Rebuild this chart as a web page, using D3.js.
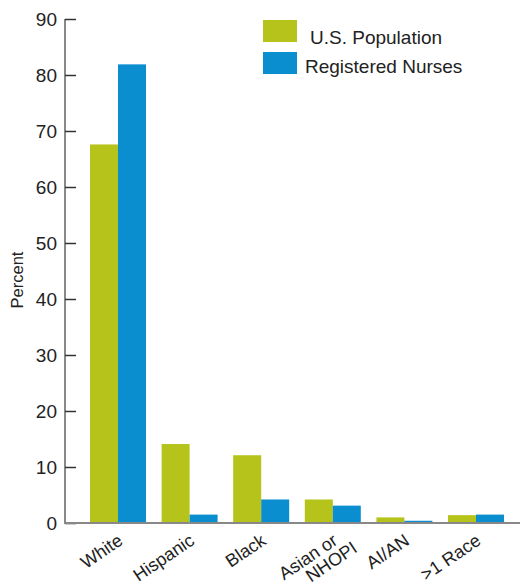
<!DOCTYPE html>
<html><head><meta charset="utf-8">
<script src="https://cdn.jsdelivr.net/npm/d3@7"></script>
<style>body{margin:0;background:#fff}svg{display:block}text{font-family:"Liberation Sans",Arial,sans-serif;fill:#222}</style>
</head><body>
<svg id="c" width="524" height="584"></svg>
<script>
const categories = ["White", "Hispanic", "Black", "Asian or\nNHOPI", "AI/AN", ">1 Race"];
const seriesNames = ["U.S. Population", "Registered Nurses"];
const usPopulation = [67.6, 14.1, 12.1, 4.2, 1.0, 1.4];
const registeredNurses = [81.9, 1.5, 4.2, 3.1, 0.4, 1.5];
const yTicks = [0, 10, 20, 30, 40, 50, 60, 70, 80, 90];
const colors = ["#b5c31b", "#0b8ed0"];

const svg = d3.select("#c");
const y = d3.scaleLinear().domain([0, 90]).range([523, 19]);
const x = d3.scaleBand().domain(categories).range([82.2, 511.8]).paddingInner(0.218).paddingOuter(0.109);
const xs = d3.scaleBand().domain(seriesNames).range([0, x.bandwidth()]);
const series = [usPopulation, registeredNurses];

// bars
seriesNames.forEach((s, si) => {
  svg.append("g").selectAll("rect").data(categories).join("rect")
    .attr("x", d => x(d) + xs(s))
    .attr("width", xs.bandwidth())
    .attr("y", (d, i) => y(series[si][i]))
    .attr("height", (d, i) => y(0) - y(series[si][i]))
    .attr("fill", colors[si]);
});

// y axis
const yAxis = d3.axisLeft(y).tickValues(yTicks).tickSize(-11).tickPadding(8);
const ga = svg.append("g").attr("transform", "translate(65,0)").call(yAxis);
ga.select(".domain").attr("stroke", "#888").attr("stroke-width", 2).attr("d", "M0," + y(90) + "V" + y(0));
ga.selectAll(".tick line").attr("stroke", "#333").attr("stroke-width", 1.5);
ga.selectAll(".tick text").attr("x", -8).attr("font-size", 19).attr("fill", "#222").attr("font-family", '"Liberation Sans",Arial,sans-serif');

// x baseline
svg.append("line").attr("x1", 64).attr("x2", 520).attr("y1", y(0)).attr("y2", y(0))
  .attr("stroke", "#888").attr("stroke-width", 2);

// x labels
categories.forEach(c => {
  const cx = x(c) + x.bandwidth() / 2 - 1;
  const t = svg.append("text").attr("font-size", 18).attr("text-anchor", "end")
    .attr("transform", `translate(${cx},533) rotate(-34)`);
  const lines = c.split("\n");
  lines.forEach((l, i) => {
    t.append("tspan").attr("x", i === 1 ? 12 : 0).attr("dy", i === 0 ? "0.7em" : "0.95em").text(l);
  });
});

// y title
svg.append("text").attr("font-size", 16.5).attr("text-anchor", "middle")
  .attr("transform", "translate(23,280) rotate(-90)").text("Percent");

// legend
const leg = [[263, 20, 310, 37], [263, 52, 305, 66]];
seriesNames.forEach((s, i) => {
  svg.append("rect").attr("x", leg[i][0]).attr("y", leg[i][1]).attr("width", 34).attr("height", 22).attr("fill", colors[i]);
  svg.append("text").attr("x", leg[i][2]).attr("y", leg[i][3]).attr("dy", "0.35em").attr("font-size", 19).text(s);
});
</script>
</body></html>
